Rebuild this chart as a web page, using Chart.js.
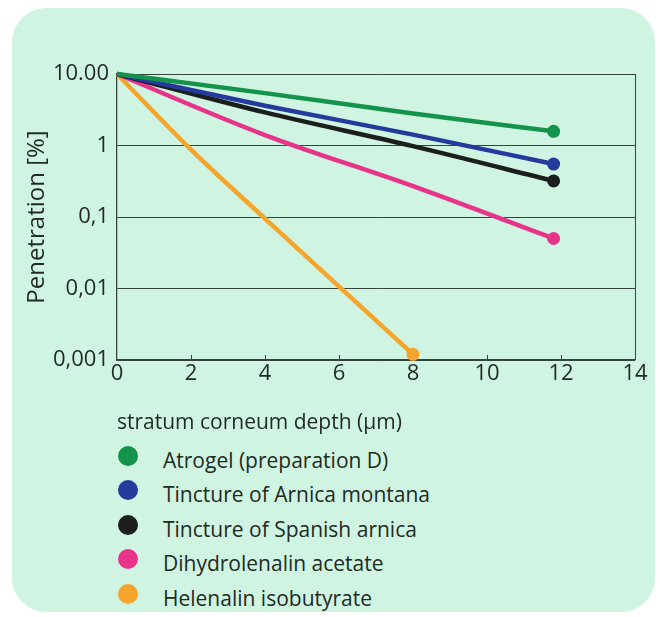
<!DOCTYPE html>
<html><head><meta charset="utf-8">
<script src="https://cdn.jsdelivr.net/npm/chart.js@4/dist/chart.umd.min.js"></script>
<style>
html,body{margin:0;padding:0;background:#fff;width:660px;height:617px;overflow:hidden;}
#panel{position:absolute;left:12px;top:8px;width:643px;height:604px;background:#d0f4e2;border-radius:34px;}
#wrap{position:absolute;left:0;top:0;width:660px;height:436px;}
#legend{position:absolute;left:118px;top:438.8px;font-family:"Open Sans",sans-serif;font-size:21px;color:#1e2a22;}
.item{height:34.4px;display:flex;align-items:center;white-space:nowrap;}
.dot{width:20px;height:20px;border-radius:50%;margin-right:25px;flex:none;}
.txt{position:relative;top:4px;}
</style></head>
<body>
<div id="panel"></div>
<div id="wrap"><canvas id="c"></canvas></div>
<div id="legend"></div>
<script>
// ---- data ----
const depthsMain = [0, 4, 8, 11.8];
const atrogel = [10, 5.4, 2.8, 1.58];
const arnicaMontana = [10, 3.6, 1.42, 0.55];
const spanishArnica = [10, 2.9, 0.98, 0.32];
const dihydrolenalinAcetate = [10, 1.4, 0.27, 0.05];
const depthsHelenalin = [0, 2, 4, 8];
const helenalinIsobutyrate = [10, 0.875, 0.095, 0.0012];

const seriesNames = ["Atrogel (preparation D)", "Tincture of Arnica montana", "Tincture of Spanish arnica", "Dihydrolenalin acetate", "Helenalin isobutyrate"];
const seriesColors = ["#13934c", "#243a9c", "#1b1e1c", "#e8338b", "#f5a52b"];
const yTickValues = [0.001, 0.01, 0.1, 1, 10];
const yTickLabels = ["0,001", "0,01", "0,1", "1", "10.00"];
const xTitle = "stratum corneum depth (\u03bcm)";
const yTitle = "Penetration [%]";

const seriesX = [depthsMain, depthsMain, depthsMain, depthsMain, depthsHelenalin];
const seriesY = [atrogel, arnicaMontana, spanishArnica, dihydrolenalinAcetate, helenalinIsobutyrate];

const FONT = "'Open Sans', sans-serif";
const INK = "#1e2a22";
const GRID = "#37433c";

const datasets = seriesNames.map((name, i) => ({
  label: name,
  data: seriesX[i].map((x, j) => ({x, y: seriesY[i][j]})),
  borderColor: seriesColors[i],
  backgroundColor: seriesColors[i],
  pointBackgroundColor: seriesColors[i],
  borderWidth: 4.5,
  pointRadius: seriesX[i].map((_, j) => j === seriesX[i].length - 1 ? 6.5 : 0),
  pointHoverRadius: 0,
  pointBorderWidth: 0,
  tension: 0.2,
  cubicInterpolationMode: 'monotone',
  clip: false
}));

const innerTicks = {
  id: 'innerTicks',
  beforeDatasetsDraw(chart) {
    const {ctx, chartArea, scales: {x}} = chart;
    ctx.save();
    ctx.strokeStyle = GRID;
    ctx.lineWidth = 1;
    x.ticks.forEach(t => {
      if (t.value <= x.min || t.value >= x.max) return;
      const px = Math.round(x.getPixelForValue(t.value)) + 0.5;
      ctx.beginPath();
      ctx.moveTo(px, chartArea.bottom);
      ctx.lineTo(px, chartArea.bottom - 5);
      ctx.stroke();
    });
    ctx.restore();
  }
};

new Chart(document.getElementById('c'), {
  type: 'line',
  data: {datasets},
  options: {
    responsive: true,
    maintainAspectRatio: false,
    animation: false,
    events: [],
    layout: {padding: {left: 0, top: 74, right: 25, bottom: 0}},
    plugins: {legend: {display: false}, tooltip: {enabled: false}},
    scales: {
      x: {
        type: 'linear', min: 0, max: 14,
        ticks: {stepSize: 2, font: {family: FONT, size: 22}, color: INK, padding: 1},
        grid: {drawTicks: false, color: ctx => ctx.tick && ctx.tick.value === 14 ? GRID : 'rgba(0,0,0,0)', lineWidth: 1},
        border: {color: GRID, width: 1.3},
        title: {display: true, text: xTitle, align: 'start', font: {family: FONT, size: 21}, color: INK, padding: {top: 0, bottom: 0}},
        afterFit(s) { s.height = 76; }
      },
      y: {
        type: 'logarithmic', min: 0.001, max: 10,
        afterBuildTicks(s) { s.ticks = yTickValues.map(v => ({value: v})); },
        ticks: {
          font: {family: FONT, size: 22}, color: INK, padding: 8,
          callback: (v) => { const k = yTickValues.findIndex(t => Math.abs(t - v) / t < 1e-6); return k >= 0 ? yTickLabels[k] : ''; }
        },
        grid: {drawTicks: false, color: GRID, lineWidth: 1},
        border: {color: GRID, width: 1.3},
        title: {display: true, text: yTitle, font: {family: FONT, size: 24}, color: INK, padding: {top: 23, bottom: 0}},
        afterFit(s) { s.width = 117; }
      }
    }
  },
  plugins: [innerTicks]
});

const legend = document.getElementById('legend');
seriesNames.forEach((name, i) => {
  const row = document.createElement('div');
  row.className = 'item';
  const dot = document.createElement('span');
  dot.className = 'dot';
  dot.style.background = seriesColors[i];
  const txt = document.createElement('span');
  txt.className = 'txt';
  txt.textContent = name;
  row.appendChild(dot); row.appendChild(txt);
  legend.appendChild(row);
});
</script>
</body></html>
